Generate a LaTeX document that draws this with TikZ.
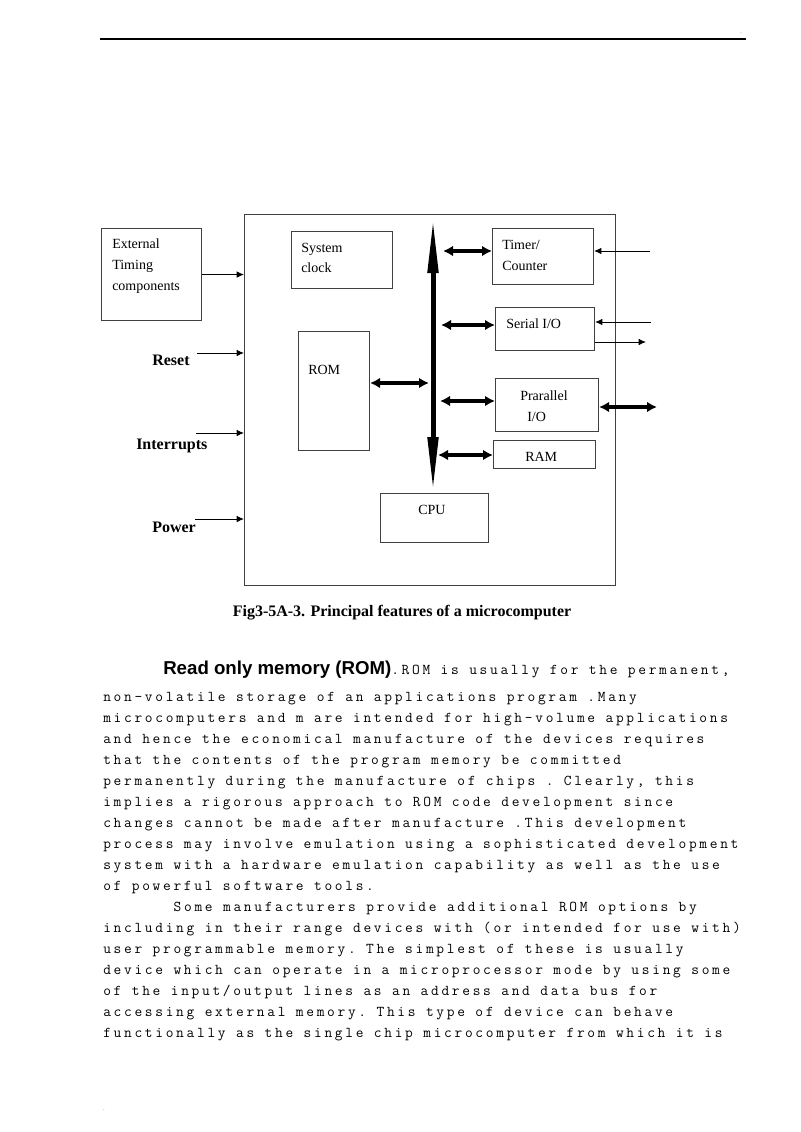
\documentclass[tikz,border=0pt]{standalone}
\usepackage{fontspec}
\setmainfont{Liberation Serif}
\newfontfamily\headfont{Liberation Sans}
\newfontfamily\bodymono{Latin Modern Mono}[LetterSpace=18]
\usetikzlibrary{arrows.meta}

\tikzset{
  blk/.style={draw=black!75, line width=0.8pt, anchor=north west, inner sep=0pt},
  boxtext/.style={anchor=base west, inner sep=0pt, font=\fontsize{10.5}{12}\selectfont},
  sigtext/.style={anchor=base west, inner sep=0pt, font=\fontsize{12}{14}\selectfont\bfseries},
  sig/.style={-{Latex[length=5.5pt,width=5pt]}, line width=0.75pt},
  dbl/.style={{Latex[length=7.5pt,width=8pt]}-{Latex[length=7.5pt,width=8pt]}, line width=2.6pt},
  bus/.style={{Triangle[length=42pt,width=7.5pt]}-{Triangle[length=42pt,width=7.5pt]}, line width=3.75pt},
  bodyline/.style={anchor=base west, inner sep=0pt, font=\bodymono\fontsize{11.25}{13}\selectfont\frenchspacing},
}

\begin{document}
\begin{tikzpicture}[x=0.75pt, y=-0.75pt]
    \fill[white] (0,0) rectangle (800,1132);
    \useasboundingbox (0,0) rectangle (800,1132);

    % page rule and marks
    \coordinate (rl) at (100,39);
    \coordinate (rr) at (746,39);
    \draw[line width=1.1pt] (rl) -- (rr);
    \node[gray, inner sep=0pt, font=\tiny] (dot1) at (741,33) {.};
    \node[gray, inner sep=0pt, font=\tiny] (dot2) at (104,1110) {.};

    % blocks
    \foreach \n/\a/\b/\c/\d in {chip/244/214/615/585, ext/101/228/201/320,
        clk/291/231/392/288, rom/298/331/369/450, tmr/492/228/593/284,
        sio/495/307/594/350, pio/495/378/598/431, ram/493/440/595/468,
        cpu/380/493/488/542} {
        \node[blk, minimum width={(\c-\a)*0.75pt}, minimum height={(\d-\b)*0.75pt}] (\n) at (\a,\b) {};
    }

    % block texts
    \node[boxtext] (ext1) at (112,248) {External};
    \node[boxtext] (ext2) at (112,269) {Timing};
    \node[boxtext] (ext3) at (112,290) {components};
    \node[boxtext] (clk1) at (301,252) {System};
    \node[boxtext] (clk2) at (301,272) {clock};
    \node[boxtext] (rom1) at (308,374) {ROM};
    \node[boxtext] (tmr1) at (502,249) {Timer/};
    \node[boxtext] (tmr2) at (502,270) {Counter};
    \node[boxtext] (sio1) at (506,328) {Serial I/O};
    \node[boxtext] (pio1) at (520,400) {Prarallel};
    \node[boxtext] (pio2) at (527,421) {I/O};
    \node[boxtext] (ram1) at (525,461) {RAM};
    \node[boxtext] (cpu1) at (418,514) {CPU};

    % signals on the left
    \node[sigtext] (rst) at (152,365) {Reset};
    \node[sigtext] (irq) at (136,449) {Interrupts};
    \node[sigtext] (pwr) at (152,532) {Power};
    \draw[sig] (ext.east) -- (ext.east -| chip.west);
    \foreach \n/\y/\xa in {rsti/353/197, irqi/433/196, pwri/519/195} {
        \coordinate (\n) at (\xa,\y);
        \draw[sig] (\n) -- (\n -| chip.west);
    }

    % bus
    \coordinate (bustop) at (433,217);
    \draw[bus] (bustop) -- (bustop |- cpu.north);
    \foreach \n/\y/\xa in {tmr/251/443, sio/325/441, pio/401/440, ram/455/438} {
        \coordinate (b\n) at (\xa,\y);
        \draw[dbl] (b\n) -- (b\n -| \n.west);
    }
    \coordinate (brom) at (429,383);
    \draw[dbl] (brom -| rom.east) -- (brom);

    % outside lines on the right
    \coordinate (tin) at (650,251);
    \coordinate (sin) at (651,322);
    \coordinate (sout) at (646,342);
    \coordinate (pout) at (657,407);
    \draw[sig] (tin) -- (tin -| tmr.east);
    \draw[sig] (sin) -- (sin -| sio.east);
    \draw[sig] (sout -| sio.east) -- (sout);
    \draw[dbl] (pout -| pio.east) -- (pout);

    \node[anchor=base, inner sep=0pt, font=\fontsize{12}{14}\selectfont\bfseries] (cap) at (402,616)
        {Fig3-5A-3. Principal features of a microcomputer};

    % text below
    \node[anchor=base west, inner sep=0pt, font=\headfont\bfseries\fontsize{14}{16}\selectfont] (head) at (163,674)
        {Read only memory (ROM)};
    \node[bodyline] (l0) at (391,674) {.ROM is usually for the permanent,};
    \foreach \t [count=\i] in {
        {non-volatile storage of an applications program .Many},
        {microcomputers and m are intended for high-volume applications},
        {and hence the economical manufacture of the devices requires},
        {that the contents of the program memory be committed},
        {permanently during the manufacture of chips . Clearly, this},
        {implies a rigorous approach to ROM code development since},
        {changes cannot be made after manufacture .This development},
        {process may involve emulation using a sophisticated development},
        {system with a hardware emulation capability as well as the use},
        {of powerful software tools.},
        {\hspace*{52.8pt}Some manufacturers provide additional ROM options by},
        {including in their range devices with (or intended for use with)},
        {user programmable memory. The simplest of these is usually},
        {device which can operate in a microprocessor mode by using some},
        {of the input/output lines as an address and data bus for},
        {accessing external memory. This type of device can behave},
        {functionally as the single chip microcomputer from which it is}} {
        \node[bodyline] (l\i) at (103,680+21*\i) {\t};
    }
\end{tikzpicture}
\end{document}
